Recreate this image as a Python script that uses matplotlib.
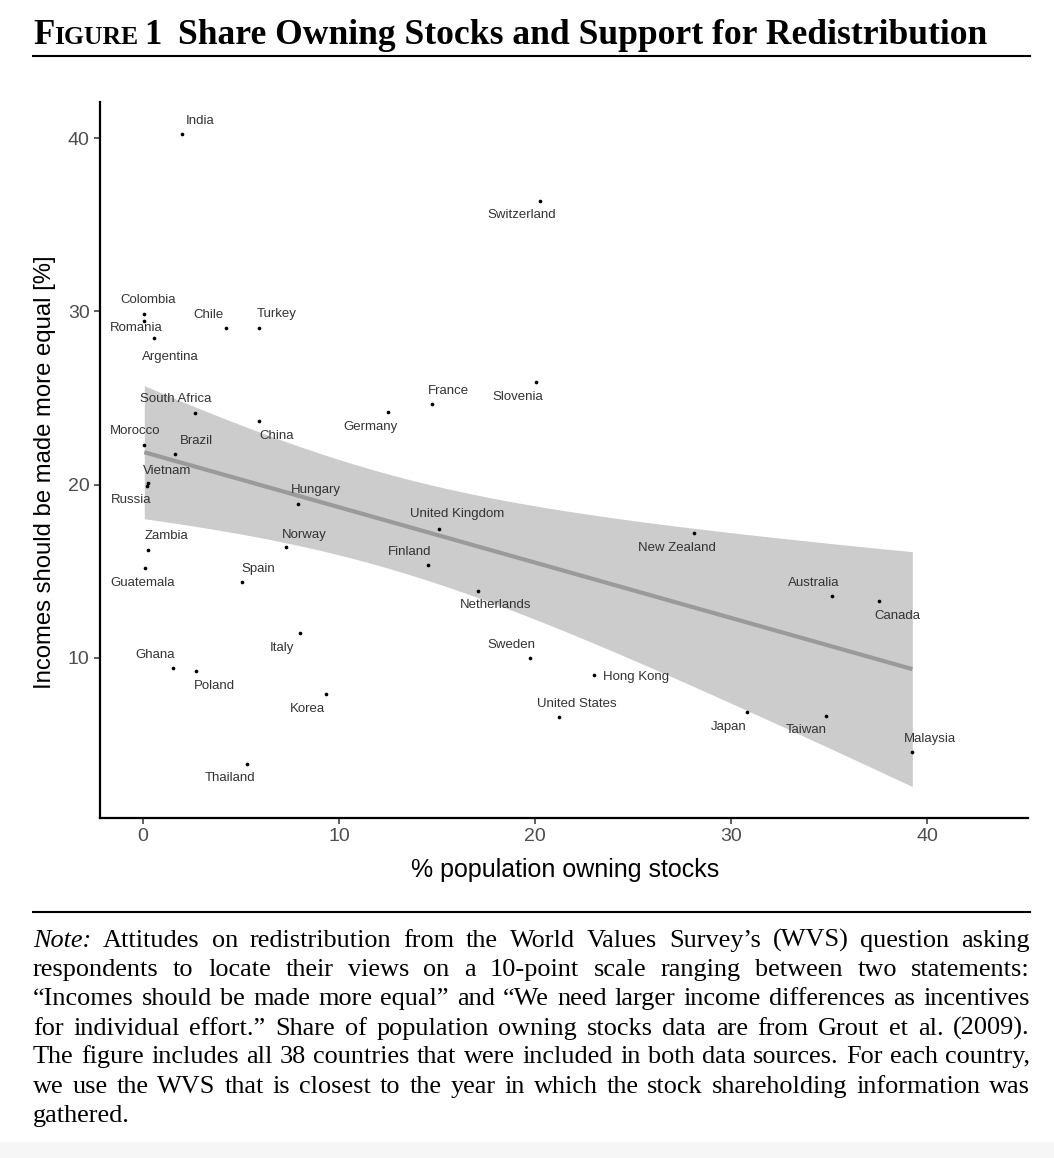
import numpy as np
import matplotlib
matplotlib.use("Agg")
import matplotlib.pyplot as plt
from matplotlib.lines import Line2D
from matplotlib.patches import Rectangle

# ---------------- data ----------------
countries = ["India", "Switzerland", "Colombia", "Romania", "Argentina", "Chile", "Turkey",
             "France", "Slovenia", "Germany", "South Africa", "China", "Morocco", "Brazil",
             "Vietnam", "Russia", "Hungary", "United Kingdom", "Norway", "Finland",
             "New Zealand", "Zambia", "Guatemala", "Spain", "Netherlands", "Australia",
             "Canada", "Italy", "Sweden", "Ghana", "Hong Kong", "Poland", "United States",
             "Korea", "Japan", "Taiwan", "Malaysia", "Thailand"]
stock_share = [1.99, 20.26, 0.07, 0.07, 0.55, 4.25, 5.92,
               14.73, 20.03, 12.52, 2.65, 5.92, 0.07, 1.65,
               0.28, 0.20, 7.93, 15.12, 7.31, 14.54,
               28.13, 0.27, 0.12, 5.03, 17.07, 35.17,
               37.57, 7.99, 19.74, 1.53, 23.01, 2.72, 21.22,
               9.34, 30.80, 34.83, 39.25, 5.32]
equal_support = [40.25, 36.36, 29.86, 29.44, 28.44, 29.02, 29.02,
                 24.63, 25.92, 24.17, 24.15, 23.65, 22.28, 21.77,
                 20.10, 19.90, 18.90, 17.46, 16.40, 15.36,
                 17.23, 16.23, 15.20, 14.38, 13.86, 13.57,
                 13.28, 11.42, 10.00, 9.42, 9.01, 9.23, 6.59,
                 7.90, 6.88, 6.67, 4.57, 3.90]
x_ticks = [0, 10, 20, 30, 40]
y_ticks = [10, 20, 30, 40]

# label offsets from point (pixels, x right / y up) -- layout only
label_offsets = {
    "India": (18, 13), "Switzerland": (-18, -14), "Colombia": (4, 14), "Romania": (-8, -7),
    "Argentina": (17, -19), "Chile": (-18, 13), "Turkey": (18, 14), "France": (17, 13),
    "Slovenia": (-18, -15), "Germany": (-18, -15), "South Africa": (-19, 14), "China": (18, -15),
    "Morocco": (-9, 14), "Brazil": (21, 13), "Vietnam": (19, 12), "Russia": (-16, -14),
    "Hungary": (17, 14), "United Kingdom": (18, 15), "Norway": (18, 12), "Finland": (-18, 13),
    "New Zealand": (-17, -15), "Zambia": (18, 14), "Guatemala": (-3, -15), "Spain": (17, 13),
    "Netherlands": (18, -14), "Australia": (-19, 13), "Canada": (18, -15), "Italy": (-18, -15),
    "Sweden": (-18, 13), "Ghana": (-18, 13), "Hong Kong": (42, -2), "Poland": (18, -15),
    "United States": (18, 13), "Korea": (-19, -15), "Japan": (-18, -15), "Taiwan": (-19, -14),
    "Malaysia": (18, 13), "Thailand": (-17, -14),
}

W, H = 1054, 1158
fig = plt.figure(figsize=(W / 100, H / 100), dpi=100)
fig.patch.set_facecolor("white")


def fx(px):
    return px / W


def fy(py):
    return 1 - py / H


ax = fig.add_axes([fx(100), fy(818), (1028 - 100) / W, (818 - 102) / H])

x = np.array(stock_share)
y = np.array(equal_support)
n = len(x)
b1, b0 = np.polyfit(x, y, 1)
xs = np.linspace(x.min(), x.max(), 100)
yhat = b0 + b1 * xs
resid = y - (b0 + b1 * x)
s = np.sqrt(np.sum(resid ** 2) / (n - 2))
se = s * np.sqrt(1 / n + (xs - x.mean()) ** 2 / np.sum((x - x.mean()) ** 2))
tval = 2.028
ax.fill_between(xs, yhat - tval * se, yhat + tval * se, color="#cccccc", lw=0, zorder=1)
ax.plot(xs, yhat, color="#9a9a9a", lw=3, zorder=2, solid_capstyle="butt")
ax.scatter(x, y, s=7, color="black", lw=0, zorder=3)

for name, xi, yi in zip(countries, stock_share, equal_support):
    dx, dy = label_offsets[name]
    ax.annotate(name, (xi, yi), xytext=(dx, dy), textcoords="offset pixels",
                ha="center", va="center", fontsize=9.5, color="#333333",
                family="Liberation Sans", zorder=4)

ax.set_xlim(-2.19, 45.15)
ax.set_ylim(0.76, 42.08)
ax.set_xticks(x_ticks)
ax.set_yticks(y_ticks)
for sp in ["top", "right"]:
    ax.spines[sp].set_visible(False)
for sp in ["left", "bottom"]:
    ax.spines[sp].set_linewidth(1.6)
    ax.spines[sp].set_color("black")
ax.tick_params(axis="both", length=4.5, width=1.1, color="#333333",
               labelsize=14, labelcolor="#4d4d4d", pad=3)
for lab in ax.get_xticklabels() + ax.get_yticklabels():
    lab.set_family("Liberation Sans")
ax.set_xlabel("% population owning stocks", fontsize=18, family="Liberation Sans",
              color="black")
ax.set_ylabel("Incomes should be made more equal [%]", fontsize=17.2,
              family="Liberation Sans", color="black")
ax.xaxis.set_label_coords((565 - 100) / 928, (818 - 870) / 716)
ax.yaxis.set_label_coords((45 - 100) / 928, (818 - 472) / 716)
ax.xaxis.label.set_va("center")
ax.yaxis.label.set_va("center")

# ---------------- title ----------------
renderer = fig.canvas.get_renderer()
serif = "Liberation Serif"


def width_px(t):
    return t.get_window_extent(renderer=renderer).width


title_base = 44
main = fig.text(fx(178), fy(title_base), "Share Owning Stocks and Support for Redistribution",
                fontsize=30, fontweight="bold", family=serif, va="baseline", ha="left")
w = width_px(main)
S = 30 * (985 - 178) / w
main.set_fontsize(S)


def place_figure_label(size, ratio):
    xcur = 33
    tF = fig.text(fx(xcur), fy(title_base), "F", fontsize=size, fontweight="bold",
                  family=serif, va="baseline", ha="left")
    xcur += width_px(tF)
    tI = fig.text(fx(xcur), fy(title_base), "IGURE", fontsize=size * ratio, fontweight="bold",
                  family=serif, va="baseline", ha="left")
    xcur += width_px(tI) + size * 0.25
    t1 = fig.text(fx(xcur), fy(title_base), "1", fontsize=size, fontweight="bold",
                  family=serif, va="baseline", ha="left")
    xcur += width_px(t1)
    return [tF, tI, t1], xcur


parts, xend = place_figure_label(S, 0.74)
if xend > 162:
    for p in parts:
        p.remove()
    place_figure_label(S * (162 - 33) / (xend - 33), 0.74)

# rules
for yy in (56, 912):
    fig.add_artist(Line2D([fx(33), fx(1030)], [fy(yy), fy(yy)], color="black", lw=1.5,
                          transform=fig.transFigure))

# bottom faint band
fig.add_artist(Rectangle((0, 0), 1, (1158 - 1142) / H, transform=fig.transFigure,
                         color="#f6f6f6", lw=0, zorder=-1))

# ---------------- note ----------------
note_lines = [
    [("Note:", "italic"), ("Attitudes on redistribution from the World Values Survey’s (WVS) question asking", "normal")],
    [("respondents to locate their views on a 10-point scale ranging between two statements:", "normal")],
    [("“Incomes should be made more equal” and “We need larger income differences as incentives", "normal")],
    [("for individual effort.” Share of population owning stocks data are from Grout et al. (2009).", "normal")],
    [("The figure includes all 38 countries that were included in both data sources. For each country,", "normal")],
    [("we use the WVS that is closest to the year in which the stock shareholding information was", "normal")],
    [("gathered.", "normal")],
]
baselines = [947, 976, 1005, 1035, 1063, 1093, 1122]
left, right = 33, 1030

fs0 = 17.0
probe_w = 0
for line in note_lines[:-1]:
    txt = " ".join(seg for seg, _ in line)
    tp = fig.text(0, 0, txt, fontsize=fs0, family=serif)
    probe_w = max(probe_w, width_px(tp))
    tp.remove()
fs = min(19.0, fs0 * (right - left) * 0.99 / probe_w)

for i, (line, bl) in enumerate(zip(note_lines, baselines)):
    words = []
    for seg, style in line:
        for wd in seg.split(" "):
            words.append((wd, style))
    arts = []
    for wd, style in words:
        a = fig.text(0, fy(bl), wd, fontsize=fs, family=serif, style=style,
                     va="baseline", ha="left")
        arts.append(a)
    widths = [width_px(a) for a in arts]
    last = i == len(note_lines) - 1
    if last or len(words) == 1:
        gap = fs * 100 / 72 * 0.25
    else:
        gap = (right - left - sum(widths)) / (len(words) - 1)
    xc = left
    for a, wdt in zip(arts, widths):
        a.set_x(fx(xc))
        xc += wdt + gap

fig.savefig("out.png", dpi=100, facecolor="white")
